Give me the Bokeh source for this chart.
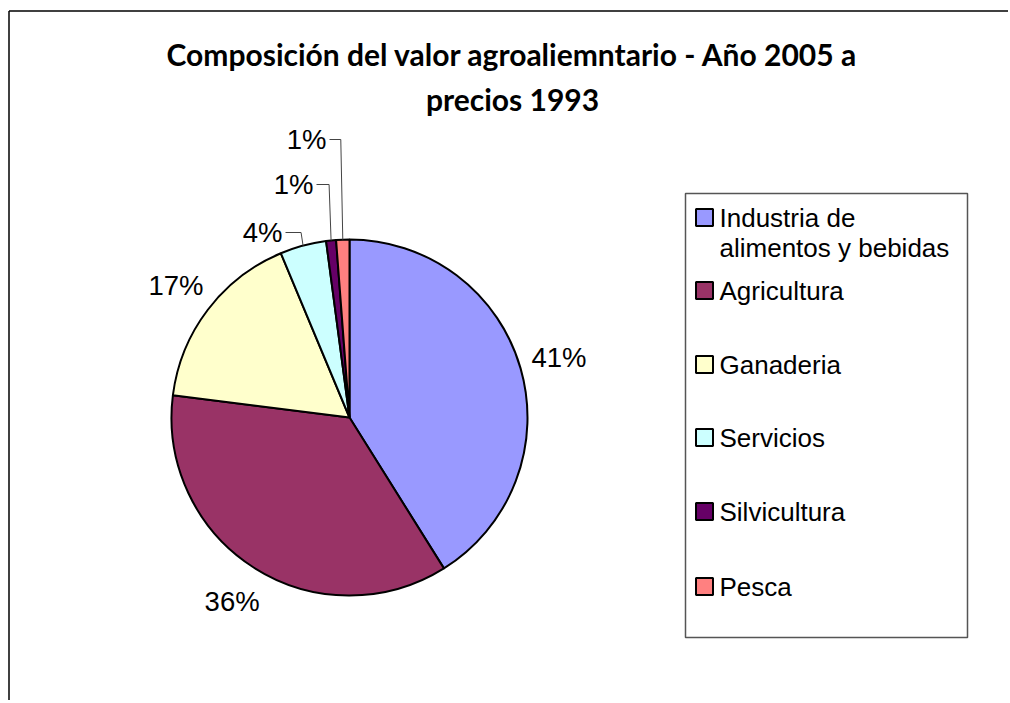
import math
from bokeh.plotting import figure
from bokeh.models import Range1d
from bokeh.core.properties import value
from bokeh.embed import file_html
from bokeh.resources import INLINE

# ---------------- data ----------------
categories = ["Industria de alimentos y bebidas", "Agricultura", "Ganaderia",
              "Servicios", "Silvicultura", "Pesca"]
values = [41.1, 35.9, 16.7, 4.2, 0.9, 1.2]
colors = ["#9999FF", "#993366", "#FFFFCC", "#CCFFFF", "#660066", "#FF8080"]
legend_labels = [["Industria de", "alimentos y bebidas"], ["Agricultura"], ["Ganaderia"],
                 ["Servicios"], ["Silvicultura"], ["Pesca"]]
title_lines = ["Composición del valor agroaliemntario - Año 2005 a", "precios 1993"]

# ---------------- layout (page pixels) ----------------
W, H = 1008, 700
def X(px): return px
def Y(py): return H - py

CX, CY, R = X(349), Y(417), 178
LABEL_R = 218
# manual label placement for the thin slices (page px), index -> (x, y)
manual_labels = {3: (262, 232), 4: (293, 184), 5: (306, 139)}

p = figure(width=W, height=H, output_backend="svg", toolbar_location=None,
           x_range=Range1d(0, W), y_range=Range1d(0, H),
           x_axis_type=None, y_axis_type=None, min_border=0)
p.grid.visible = False
p.outline_line_color = None
p.background_fill_color = "white"
p.border_fill_color = "white"

# outer chart frame (left and top edges visible)
p.segment(x0=[X(8.5), X(8.5)], y0=[Y(703), Y(10.5)], x1=[X(8.5), X(1010)], y1=[Y(10.5), Y(10.5)],
          line_color="black", line_width=1.5)

# title
for i, t in enumerate(title_lines):
    p.text(x=[X(512)], y=[Y(53 + i * 45)], text=[t],
           text_font=value("Lato"), text_font_style="bold",
           text_font_size="30px", text_align="center", text_baseline="middle",
           text_color="black")

# pie
total = sum(values)
cum = 0.0
starts, ends, mids = [], [], []
for v in values:
    f0 = cum / total
    f1 = (cum + v) / total
    cum += v
    starts.append(math.pi / 2 - 2 * math.pi * f0)
    ends.append(math.pi / 2 - 2 * math.pi * f1)
    mids.append(2 * math.pi * (f0 + f1) / 2)

p.wedge(x=[CX] * len(values), y=[CY] * len(values), radius=R,
        start_angle=starts, end_angle=ends, direction="clock",
        fill_color=colors, line_color="black", line_width=2)

# labels
for i, v in enumerate(values):
    txt = f"{round(v)}%"
    th = mids[i]
    if i in manual_labels:
        lx, ly = X(manual_labels[i][0]), Y(manual_labels[i][1])
        ex, ey = CX + R * math.sin(th), CY + R * math.cos(th)
        sx = lx + 23
        elx = ex - 2
        p.line(x=[sx, elx, ex], y=[ly, ly, ey], line_color="#444444", line_width=1)
    else:
        lx, ly = CX + LABEL_R * math.sin(th), CY + LABEL_R * math.cos(th)
    p.text(x=[lx], y=[ly], text=[txt], text_font=value("Liberation Sans"),
           text_font_size="27.5px", text_align="center", text_baseline="middle",
           text_color="black")

# legend box
lx0, ly0, lx1, ly1 = X(685), Y(193), X(967), Y(637)
p.quad(left=[lx0], right=[lx1], top=[ly0], bottom=[ly1], fill_color="white",
       line_color="#555555", line_width=1.5)
entry_y = [217, 290, 364, 437, 511, 586]
for i, lines in enumerate(legend_labels):
    yy = Y(entry_y[i])
    p.rect(x=[X(704)], y=[yy], width=17, height=17, fill_color=colors[i],
           line_color="black", line_width=2)
    for j, ln in enumerate(lines):
        p.text(x=[X(719)], y=[yy - j * 30], text=[ln], text_font=value("Liberation Sans"),
               text_font_size="26px", text_align="left", text_baseline="middle",
               text_color="black")

open("out.html", "w").write(file_html(p, INLINE))
